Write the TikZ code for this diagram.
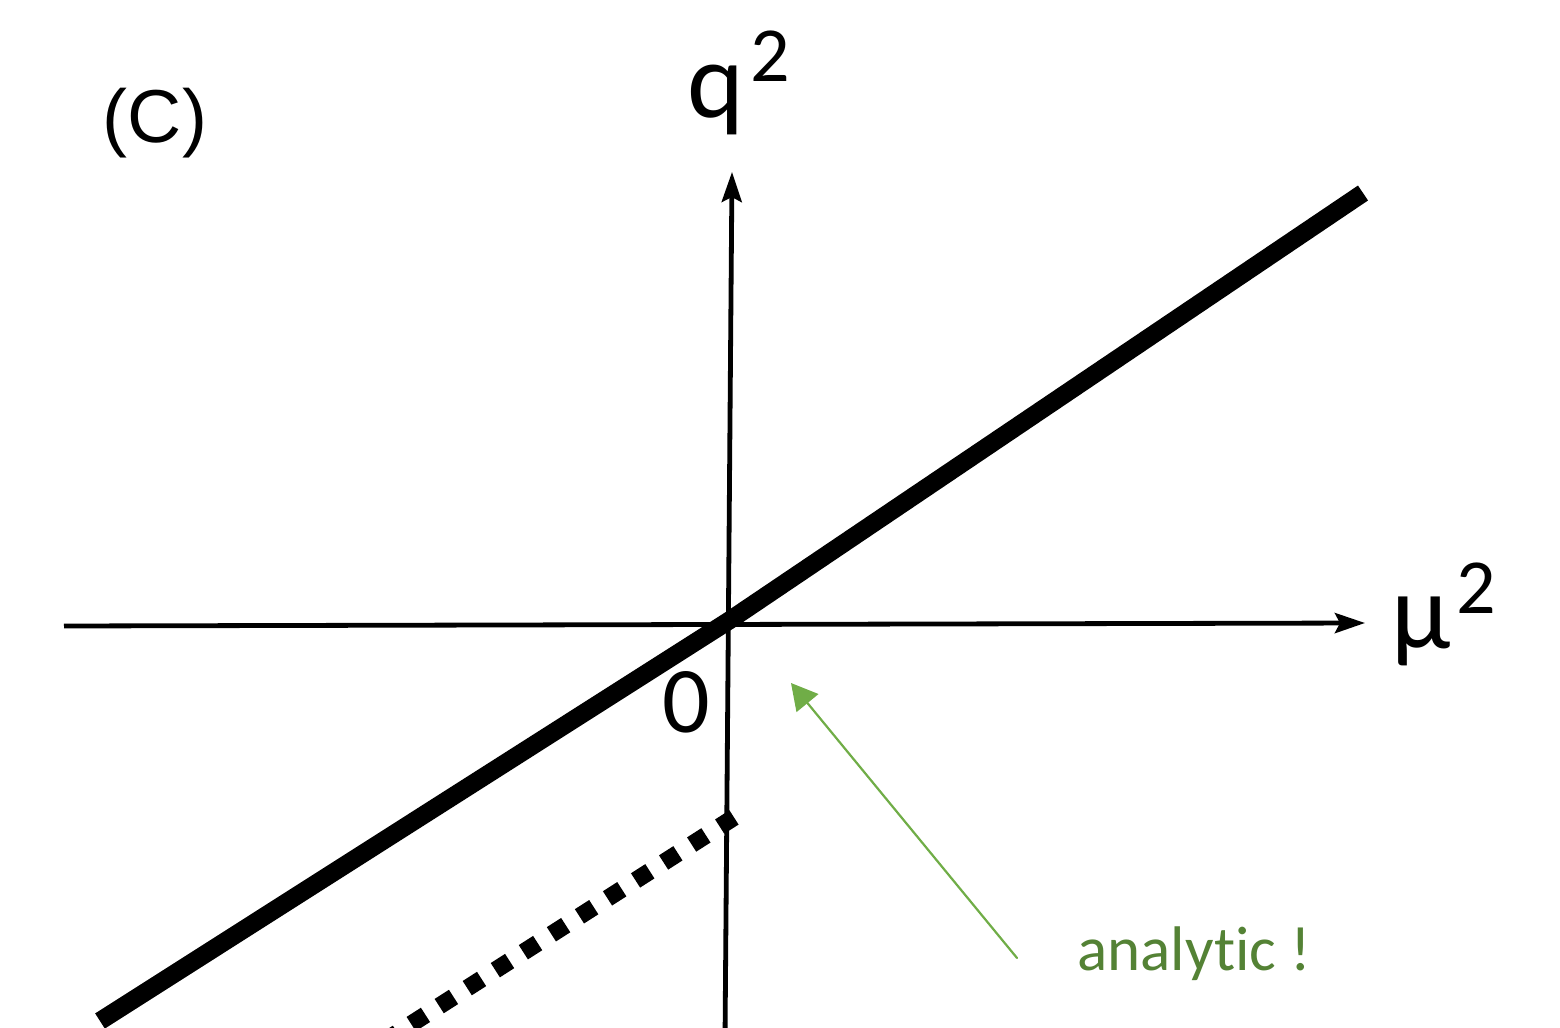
\documentclass[tikz,border=0pt]{standalone}
\usepackage{fontspec}
\setmainfont{Carlito}[Ligatures=CommonOff]
\newfontfamily\panelfont{Liberation Sans}
\usepackage{xcolor}
\usetikzlibrary{arrows.meta}
\definecolor{leafgreen}{HTML}{70AD47}
\definecolor{darkleaf}{HTML}{548235}
\tikzset{
    every picture/.style={line cap=round,line join=round},
    axisline/.style={draw=black,line width=2.4pt,line cap=butt,
      -{Stealth[length=15pt,width=10pt,inset=2.5pt]}},
    boundline/.style={draw=black,line width=9pt,line cap=butt,line join=miter},
    dotline/.style={draw=black,line width=8.5pt,line cap=butt,
      dash pattern=on 8.5pt off 8.15pt},
    notearrow/.style={draw=leafgreen,line width=1.1pt,
      -{Triangle[length=13pt,width=14pt]}},
    bigtext/.style={inner sep=0pt,font=\fontsize{54}{54}\selectfont},
    notetext/.style={inner sep=0pt,text=darkleaf,font=\fontsize{31.5}{32}\selectfont}
}
\newcommand{\sqr}[1]{\raisebox{#1}{\fontsize{39}{39}\selectfont 2}}

\begin{document}
\begin{tikzpicture}[x=0.5pt,y=-0.5pt]
  \useasboundingbox (0,0) rectangle (1560,1028);
  \clip (0,0) rectangle (1560,1028);
  % axes
  \coordinate (hleft) at (64,626);
  \coordinate (hright) at (1365,623);
  \coordinate (vbottom) at (725,1040);
  \coordinate (vtop) at (732,172);
  \draw[axisline] (hleft) -- (hright);
  \draw[axisline] (vbottom) -- (vtop);
  % thick line through the origin
  \coordinate (lowend) at (100,1021);
  \coordinate (mid) at (730,620);
  \coordinate (highend) at (1363,193);
  \draw[boundline] (lowend) -- (mid) -- (highend);
  % dotted part below
  \coordinate (dotstart) at (734,817.4);
  \coordinate (dotend) at (355,1060);
  \draw[dotline] (dotstart) -- (dotend);
  % labels
  \node[bigtext,anchor=base west] (qlabel) at (687,117) {q\kern3pt\sqr{17.5pt}};
  \node[bigtext,anchor=base west] (mulabel) at (1391,648) {μ\kern3pt\sqr{17.5pt}};
  \node[inner sep=0pt,anchor=base,font=\fontsize{47}{47}\selectfont] (zero) at (686,732) {0};
  \node[inner sep=0pt,anchor=base,font=\panelfont\fontsize{37.5}{38}\selectfont] (panel) at (155,142) {(C)};
  % note
  \node[notetext,anchor=base west] (note) at (1077,970) {analytic !};
  \coordinate (notestart) at (1017,958);
  \coordinate (notetip) at (791,683);
  \draw[notearrow] (notestart) -- (notetip);
\end{tikzpicture}
\end{document}
